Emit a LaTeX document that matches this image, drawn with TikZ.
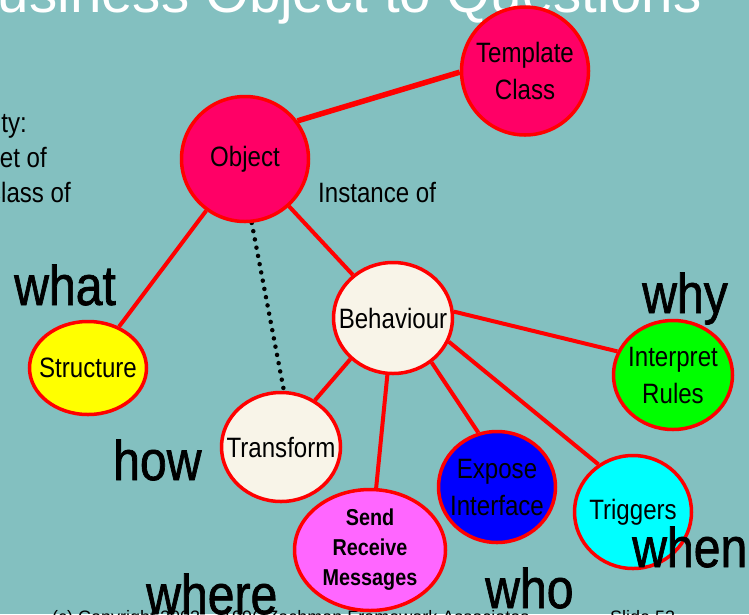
\documentclass[tikz,border=0pt]{standalone}
\usepackage{fontspec}
\setmainfont[FakeStretch=0.86]{Liberation Sans}
\newfontfamily\titlefont{Liberation Sans}
\newfontfamily\qfont[FakeStretch=0.86,FakeBold=1.2]{Liberation Sans}
\usetikzlibrary{shapes.geometric}
\pgfdeclarelayer{background}
\pgfdeclarelayer{edgelayer}
\pgfdeclarelayer{nodelayer}
\pgfsetlayers{background,edgelayer,nodelayer,main}
\definecolor{slidebg}{RGB}{131,192,192}
\definecolor{linkred}{RGB}{255,0,0}
\definecolor{objfill}{RGB}{255,0,102}
\definecolor{beige}{RGB}{248,244,232}
\definecolor{msgfill}{RGB}{255,102,255}
\definecolor{strfill}{RGB}{255,255,0}
\definecolor{expfill}{RGB}{0,0,255}
\definecolor{trgfill}{RGB}{0,255,255}
\definecolor{rulfill}{RGB}{0,255,0}
\tikzstyle{none}=[inner sep=0pt]
\tikzstyle{lbl}=[none,align=center,font=\fontsize{28}{37}\selectfont]
\tikzstyle{bubble}=[shape=ellipse,draw=linkred,line width=3.5pt,inner sep=0pt]
\tikzstyle{ob}=[bubble,fill=objfill]
\tikzstyle{bh}=[bubble,fill=beige]
\tikzstyle{link}=[draw=linkred,line width=4pt]
\tikzstyle{dotlink}=[draw=black,line width=4.5pt,line cap=round,dash pattern=on 0pt off 8.4pt]
\tikzstyle{question}=[none,anchor=base west,font=\qfont\fontsize{56}{60}\selectfont]
\tikzstyle{remark}=[none,font=\fontsize{28}{35}\selectfont]

\begin{document}
\begin{tikzpicture}[x=1pt,y=-1pt]
	\useasboundingbox (0,0) rectangle (749,614);
	\clip (0,0) rectangle (749,614);
	\begin{pgfonlayer}{background}
		\fill[slidebg] (0,0) rectangle (749,614);
		\node [none,anchor=base west,text=white,font=\titlefont\fontsize{56.5}{60}\selectfont] (title) at (-40,12) {Business Object to Questions};
		\node [remark,anchor=base east] (id1) at (27,132) {Identity:};
		\node [remark,anchor=base east] (id2) at (47,167) {Set of};
		\node [remark,anchor=base east] (id3) at (71,202) {Class of};
		\node [none,anchor=base west,font=\titlefont\fontsize{18}{20}\selectfont] (foot) at (52,623) {(c) Copyright 2003 -- 1996 Zachman Framework Associates};
		\node [none,anchor=base west,font=\titlefont\fontsize{18}{20}\selectfont] (slide) at (610,623) {Slide 53};
	\end{pgfonlayer}
	\begin{pgfonlayer}{nodelayer}
		\node [ob,minimum width=127,minimum height=128,label={[lbl]center:Template\\Class}] (tpl) at (525,71) {};
		\node [ob,minimum width=127,minimum height=125,label={[lbl]center:Object}] (obj) at (245,159) {};
		\node [bh,minimum width=119,minimum height=111,label={[lbl]center:Behaviour}] (beh) at (393,318) {};
		\node [bubble,fill=strfill,minimum width=117,minimum height=93,label={[lbl]center:Structure}] (str) at (88,368) {};
		\node [bh,minimum width=119,minimum height=109,label={[lbl]center:Transform}] (trf) at (281,447) {};
		\node [bubble,fill=msgfill,minimum width=151,minimum height=121,label={[lbl,font=\bfseries\fontsize{23}{30}\selectfont]center:Send\\Receive\\Messages}] (msg) at (370,550) {};
		\node [bubble,fill=expfill,minimum width=117,minimum height=111,label={[lbl]center:Expose\\Interface}] (exp) at (497,487) {};
		\node [bubble,fill=trgfill,minimum width=117,minimum height=113,label={[lbl]center:Triggers}] (trg) at (633,512) {};
		\node [bubble,fill=rulfill,minimum width=119,minimum height=109,label={[lbl]center:Interpret\\Rules}] (rul) at (673,375) {};
		\node [remark,anchor=base west] (inst) at (318,202) {Instance of};
		\node [question] (what) at (14,305) {what};
		\node [question] (how) at (113,480) {how};
		\node [question] (why) at (642,313) {why};
		\node [question] (where) at (146,614) {where};
		\node [question] (who) at (485,608) {who};
		\node [question] (when) at (632,567) {when};
	\end{pgfonlayer}
	\begin{pgfonlayer}{edgelayer}
		\draw[link,line width=5.5pt] (obj.36) to (tpl.181);
		\draw[link] (obj) to (str);
		\draw[link] (obj) to (beh);
		\draw[dotlink] (obj.-84) to (trf.87);
		\draw[link] (beh.-136) to (trf.54);
		\draw[link] (beh) to (msg);
		\draw[link] (beh.-49) to (exp.109);
		\draw[link] (beh.-23) to (trg.126);
		\draw[link] (beh.6) to (rul.157);
	\end{pgfonlayer}
\end{tikzpicture}
\end{document}
